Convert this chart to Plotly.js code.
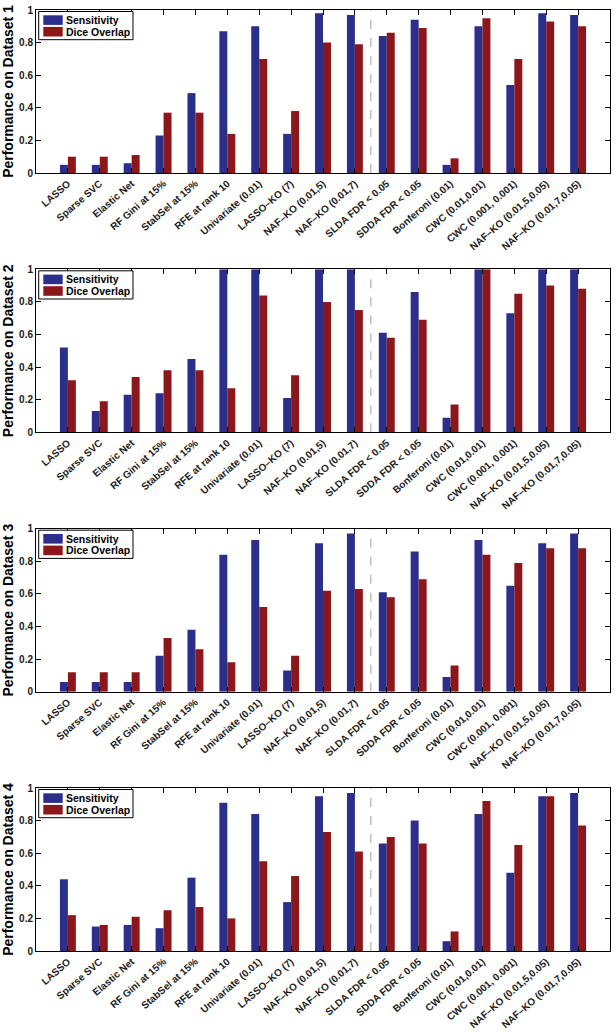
<!DOCTYPE html>
<html>
<head>
<meta charset="utf-8">
<script src="https://cdn.plot.ly/plotly-3.0.1.min.js"></script>
<style>
html,body{margin:0;padding:0;background:#fff;}
#chart{width:616px;height:1033px;}
</style>
</head>
<body>
<div id="chart"></div>
<script>
const methods = [
  "LASSO", "Sparse SVC", "Elastic Net", "RF Gini at 15%", "StabSel at 15%",
  "RFE at rank 10", "Univariate (0.01)", "LASSO\u2013KO (7)", "NAF\u2013KO (0.01,5)",
  "NAF\u2013KO (0.01,7)", "SLDA FDR < 0.05", "SDDA FDR < 0.05", "Bonferoni (0.01)",
  "CWC (0.01,0.01)", "CWC (0.001, 0.001)", "NAF\u2013KO (0.01,5,0.05)", "NAF\u2013KO (0.01,7,0.05)"
];
const seriesNames = ["Sensitivity", "Dice Overlap"];
const datasetLabels = ["Performance on Dataset 1", "Performance on Dataset 2",
                       "Performance on Dataset 3", "Performance on Dataset 4"];

const sens1 = [0.05,0.05,0.06,0.23,0.49,0.87,0.90,0.24,0.98,0.97,0.84,0.94,0.05,0.90,0.54,0.98,0.97];
const dice1 = [0.10,0.10,0.11,0.37,0.37,0.24,0.70,0.38,0.80,0.79,0.86,0.89,0.09,0.95,0.70,0.93,0.90];
const sens2 = [0.52,0.13,0.23,0.24,0.45,1.00,1.00,0.21,1.00,1.00,0.61,0.86,0.09,1.00,0.73,1.00,1.00];
const dice2 = [0.32,0.19,0.34,0.38,0.38,0.27,0.84,0.35,0.80,0.75,0.58,0.69,0.17,1.00,0.85,0.90,0.88];
const sens3 = [0.06,0.06,0.06,0.22,0.38,0.84,0.93,0.13,0.91,0.97,0.61,0.86,0.09,0.93,0.65,0.91,0.97];
const dice3 = [0.12,0.12,0.12,0.33,0.26,0.18,0.52,0.22,0.62,0.63,0.58,0.69,0.16,0.84,0.79,0.88,0.88];
const sens4 = [0.44,0.15,0.16,0.14,0.45,0.91,0.84,0.30,0.95,0.97,0.66,0.80,0.06,0.84,0.48,0.95,0.97];
const dice4 = [0.22,0.16,0.21,0.25,0.27,0.20,0.55,0.46,0.73,0.61,0.70,0.66,0.12,0.92,0.65,0.95,0.77];

const separatorAfter = "NAF\u2013KO (0.01,7)";

const sensAll = [sens1, sens2, sens3, sens4];
const diceAll = [dice1, dice2, dice3, dice4];

const blue = "#2b2e8b";
const red = "#8b171b";
const colors = [blue, red];
const W = 616, H = 1033;
const plotTops = [10, 269.3, 528.7, 788];
const plotH = 163;
const xL = 36, xR = 610;
const FONT = "Liberation Sans, Arial, sans-serif";

const tickFont = {family: FONT, size: 10, weight: "bold", color: "#1a1a1a"};
const data = [];
const layout = {
  width: W, height: H,
  margin: {l: 0, r: 0, t: 0, b: 0},
  paper_bgcolor: "#fff", plot_bgcolor: "#fff",
  barmode: "group", bargap: 0.5, bargroupgap: 0,
  showlegend: false,
  shapes: [], annotations: [],
  font: {family: FONT}
};

const sepIdx = methods.indexOf(separatorAfter) + 0.5;
const px = v => v / W;
const py = v => 1 - v / H;

for (let i = 0; i < 4; i++) {
  const sfx = i === 0 ? "" : String(i + 1);
  [sensAll[i], diceAll[i]].forEach((vals, k) => {
    data.push({
      type: "bar", x: methods, y: vals, name: seriesNames[k],
      xaxis: "x" + sfx, yaxis: "y" + sfx,
      marker: {color: colors[k], line: {width: 0}}
    });
  });
  const top = plotTops[i], bot = top + plotH;
  layout["xaxis" + sfx] = {
    domain: [xL / W, xR / W], anchor: "y" + sfx,
    type: "category", range: [-1, methods.length],
    tickangle: -41, tickfont: tickFont,
    ticks: "inside", ticklen: 5, tickcolor: "#000", tickwidth: 1,
    showline: true, linecolor: "#000", linewidth: 1, mirror: "ticks",
    showgrid: false, zeroline: false, fixedrange: true
  };
  layout["yaxis" + sfx] = {
    domain: [1 - bot / H, 1 - top / H], anchor: "x" + sfx,
    range: [0, 1], dtick: 0.2, tick0: 0,
    tickfont: tickFont,
    ticks: "inside", ticklen: 5, tickcolor: "#000", tickwidth: 1,
    showline: true, linecolor: "#000", linewidth: 1, mirror: "ticks",
    showgrid: false, zeroline: false, fixedrange: true,
    title: {text: datasetLabels[i], standoff: 6,
            font: {family: FONT, size: 14, weight: "bold", color: "#000"}}
  };
  layout.shapes.push({
    type: "line", xref: "x" + sfx, yref: "y" + sfx,
    x0: sepIdx, x1: sepIdx, y0: 0, y1: 1,
    line: {color: "#888", width: 0.8, dash: "dash"}, layer: "below"
  });
  // legend box
  layout.shapes.push({
    type: "rect", xref: "paper", yref: "paper",
    x0: px(38.7), x1: px(133), y0: py(top + 1.5), y1: py(top + 29.7),
    line: {color: "#000", width: 1}, fillcolor: "#fff", layer: "above"
  });
  const swTop = [5.3, 16.9], swBot = [14.9, 26.5];
  for (let k = 0; k < 2; k++) {
    layout.shapes.push({
      type: "rect", xref: "paper", yref: "paper",
      x0: px(43.3), x1: px(62.7), y0: py(top + swTop[k]), y1: py(top + swBot[k]),
      line: {width: 0}, fillcolor: colors[k], layer: "above"
    });
    layout.annotations.push({
      xref: "paper", yref: "paper", x: px(64), y: py(top + (swTop[k] + swBot[k]) / 2),
      xanchor: "left", yanchor: "middle", showarrow: false, text: seriesNames[k],
      font: {family: FONT, size: 10.5, weight: "bold", color: "#000"}
    });
  }
}

Plotly.newPlot("chart", data, layout, {displayModeBar: false, staticPlot: true});
</script>
</body>
</html>
